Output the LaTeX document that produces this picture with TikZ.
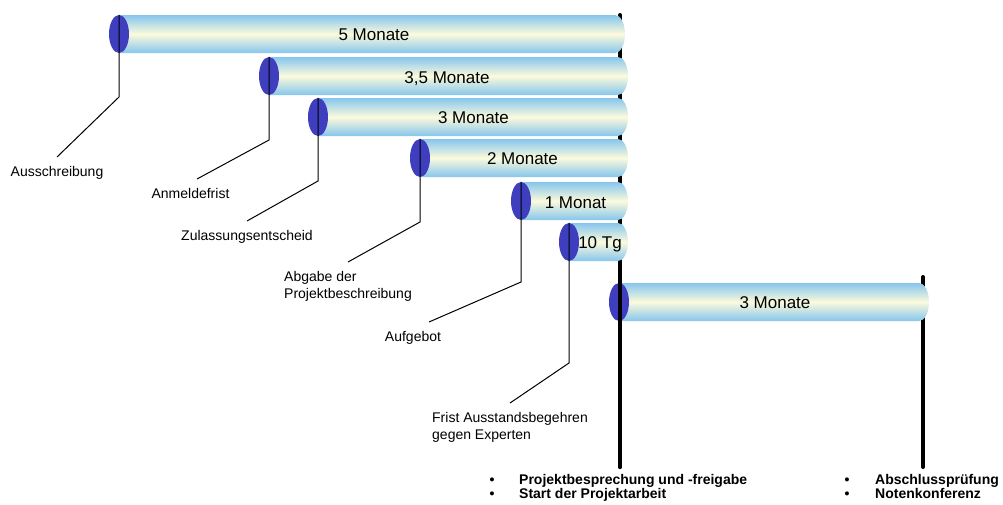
\documentclass[tikz,border=0pt]{standalone}
\usepackage{fontspec}
\setmainfont{Liberation Sans}
\usetikzlibrary{shapes.geometric,calc}
\definecolor{barblue}{RGB}{134,198,237}
\definecolor{barcream}{RGB}{252,250,220}
\definecolor{capblue}{RGB}{62,62,190}
\newcommand\ganttbar[3]{%
  \shade[top color=barblue, bottom color=barblue, middle color=barcream]
    (#1,-#2+19) -- (#3-10,-#2+19) arc[start angle=90,end angle=-90,x radius=10,y radius=19]
    -- (#1,-#2-19) -- cycle;}
\begin{document}
\begin{tikzpicture}[x=1pt,y=1pt,
  capell/.style={ellipse, fill=capblue, minimum width=20pt, minimum height=38pt, inner sep=0pt},
  barlabel/.style={font=\fontsize{17}{20}\selectfont, inner sep=0pt, anchor=base},
  lbl/.style={font=\fontsize{14}{17}\selectfont, inner sep=0pt, outer ysep=9pt, anchor=north, align=left},
  leader/.style={draw=black, line width=1pt},
  milestone/.style={line width=4pt, line cap=round},
  botlbl/.style={font=\fontsize{14}{12}\selectfont\bfseries, inner sep=0pt, anchor=base west}]
\useasboundingbox (0,0) rectangle (1003,-504);

% milestone lines (under the bars)
\coordinate (m1top) at (620,-15);
\coordinate (m1mid) at (620,-264);
\coordinate (m1bot) at (620,-467);
\coordinate (m2top) at (923,-277);
\coordinate (m2bot) at (923,-467);
\draw[milestone] (m1top) -- (m1bot);
\draw[milestone] (m2top) -- (m2bot);

% bars
\ganttbar{119}{34}{625}
\ganttbar{269}{76}{628}
\ganttbar{318}{117}{628}
\ganttbar{420}{158}{628}
\ganttbar{521}{201}{628}
\ganttbar{569}{242}{628}
\ganttbar{619}{302}{929}

% caps
\node[capell] (e1) at (119,-34) {};
\node[capell] (e2) at (269,-76) {};
\node[capell] (e3) at (318,-117) {};
\node[capell] (e4) at (420,-158) {};
\node[capell] (e5) at (521,-201) {};
\node[capell] (e6) at (569,-242) {};
\node[capell] (e7) at (619,-302) {};

% milestone line over the last bar
\draw[milestone] (m1mid) -- (m1bot);

% bar labels
\node[barlabel] (t1) at (374,-40) {5 Monate};
\node[barlabel] (t2) at (447,-83) {3,5 Monate};
\node[barlabel] (t3) at (473.5,-123) {3 Monate};
\node[barlabel] (t4) at (522.5,-164) {2 Monate};
\node[barlabel] (t5) at (575.5,-208) {1 Monat};
\node[barlabel] (t6) at (600,-248) {10 Tg};
\node[barlabel] (t7) at (775,-308) {3 Monate};

% event labels
\node[lbl] (lab1) at (57,-157) {Ausschreibung};
\node[lbl] (lab2) at (190.5,-179) {Anmeldefrist};
\node[lbl] (lab3) at (247,-221) {Zulassungsentscheid};
\node[lbl] (lab4) at (348,-262) {Abgabe der\\Projektbeschreibung};
\node[lbl] (lab5) at (413,-322) {Aufgebot};
\node[lbl] (lab6) at (510,-403) {Frist Ausstandsbegehren\\gegen Experten};

% leaders
\draw[leader] (e1.north) -- (119,-97) -- (lab1.north);
\draw[leader] (e2.north) -- (269,-140) -- ([xshift=6.5pt]lab2.north);
\draw[leader] (e3.north) -- (318,-181) -- (lab3.north);
\draw[leader] (e4.north) -- (420,-222) -- (lab4.north);
\draw[leader] (e5.north) -- (521,-282) -- ([xshift=16pt]lab5.north);
\draw[leader] (e6.north) -- (569,-363) -- (lab6.north);

% milestone texts
\node[botlbl] (b1) at (489.3,-484.5) {\begin{tabular}[t]{@{}l@{\hspace{24.8pt}}l@{}}\textbullet & Projektbesprechung und -freigabe\\ \textbullet & Start der Projektarbeit\end{tabular}};
\node[botlbl] (b2) at (844.5,-484.5) {\begin{tabular}[t]{@{}l@{\hspace{25.6pt}}l@{}}\textbullet & Abschlussprüfung\\ \textbullet & Notenkonferenz\end{tabular}};
\end{tikzpicture}
\end{document}
